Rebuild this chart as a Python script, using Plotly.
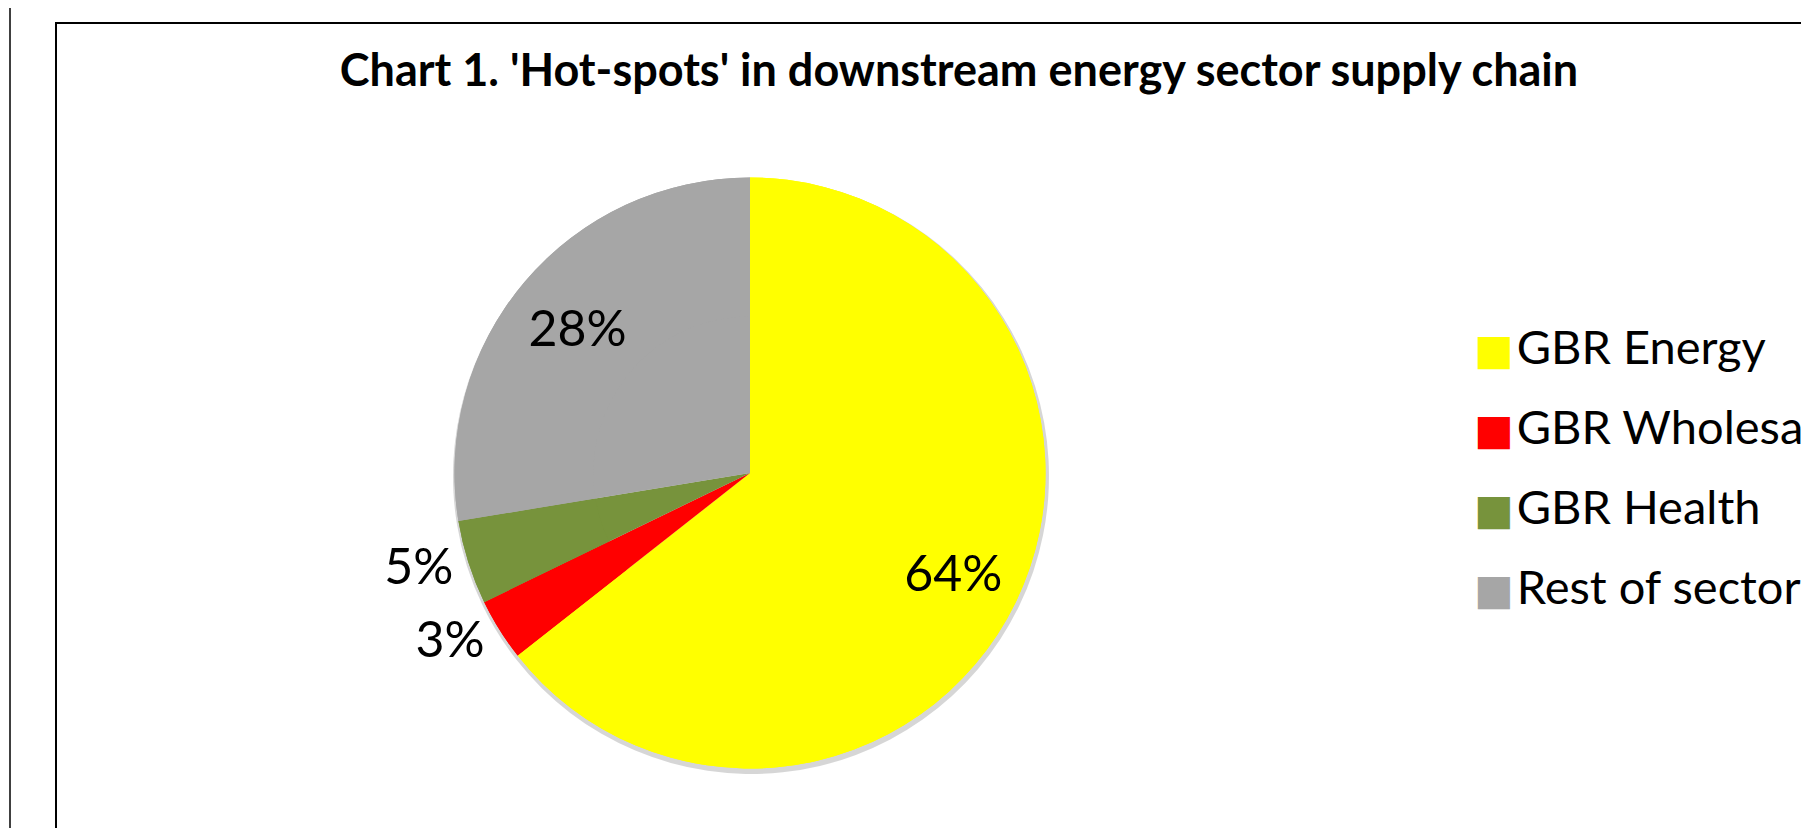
import plotly.graph_objects as go

# ---- data ----
categories = ["GBR Energy", "GBR Wholesale", "GBR Health", "Rest of sector"]
shares = [64.4, 3.4, 4.6, 27.6]
colors = ["#FFFF00", "#FF0000", "#77933C", "#A6A6A6"]
label_positions = ["inside", "outside", "outside", "inside"]
title_text = "Chart 1. 'Hot-spots' in downstream energy sector supply chain"

W, H = 1809, 828
FONT = "Lato"

# pie geometry (pixels)
cx, cy, r = 742, 465, 295.5


def domain(cxp, cyp, rp):
    return dict(x=[(cxp - rp) / W, (cxp + rp) / W],
                y=[1 - (cyp + rp) / H, 1 - (cyp - rp) / H])


dom = domain(cx, cy, r)

fig = go.Figure()
# soft drop shadow under the pie
fig.add_trace(go.Pie(
    labels=categories, values=shares, sort=False, direction="clockwise", rotation=0,
    marker=dict(colors=["rgba(0,0,0,0.16)"] * len(shares), line=dict(width=0)),
    textinfo="none", domain=domain(cx + 1, cy + 3, r + 2.5),
    showlegend=False, hoverinfo="skip",
))
# solid full pie (no labels)
fig.add_trace(go.Pie(
    labels=categories, values=shares, sort=False, direction="clockwise", rotation=0,
    marker=dict(colors=colors, line=dict(width=0)),
    textinfo="none", domain=dom, showlegend=False, hoverinfo="label+percent",
))
# same slices as a ring on top, carrying the percentage labels (places inside labels
# towards the outer part of the slices, like the original)
fig.add_trace(go.Pie(
    labels=categories, values=shares, sort=False, direction="clockwise", rotation=0,
    hole=0.53,
    marker=dict(colors=colors, line=dict(width=0)),
    texttemplate="%{percent:.0%}",
    textposition=label_positions,
    insidetextorientation="horizontal",
    textfont=dict(family=FONT, size=50, color="black"),
    domain=dom, showlegend=False, hoverinfo="label+percent",
))

# legend drawn as annotations (large square keys like the original)
legend_x = 1464 / W
row0, row_step = 338, 80
annotations = []
for i, (name, c) in enumerate(zip(categories, colors)):
    annotations.append(dict(
        xref="paper", yref="paper", x=legend_x, y=1 - (row0 + i * row_step) / H,
        xanchor="left", yanchor="middle", showarrow=False, align="left",
        text=(f'<span style="color:{c};font-family:DejaVu Sans;font-size:42px">■</span>'
              f'<span style="font-size:12px"> </span>{name}'),
        font=dict(family=FONT, size=47, color="black"),
    ))

shapes = [
    dict(type="rect", xref="paper", yref="paper",
         x0=48 / W, x1=1.05, y0=-0.05, y1=1 - 15 / H,
         line=dict(color="black", width=2), fillcolor="rgba(0,0,0,0)"),
    dict(type="line", xref="paper", yref="paper",
         x0=2 / W, x1=2 / W, y0=0, y1=1,
         line=dict(color="black", width=1.5)),
]

fig.update_layout(
    width=W, height=H,
    margin=dict(l=0, r=0, t=0, b=0),
    paper_bgcolor="white", plot_bgcolor="white",
    title=dict(text=f"<b>{title_text}</b>", x=951 / W, xanchor="center",
               y=1 - 62 / H, yanchor="middle",
               font=dict(family=FONT, size=45, color="black")),
    annotations=annotations,
    shapes=shapes,
)

fig.write_html("out.html")
